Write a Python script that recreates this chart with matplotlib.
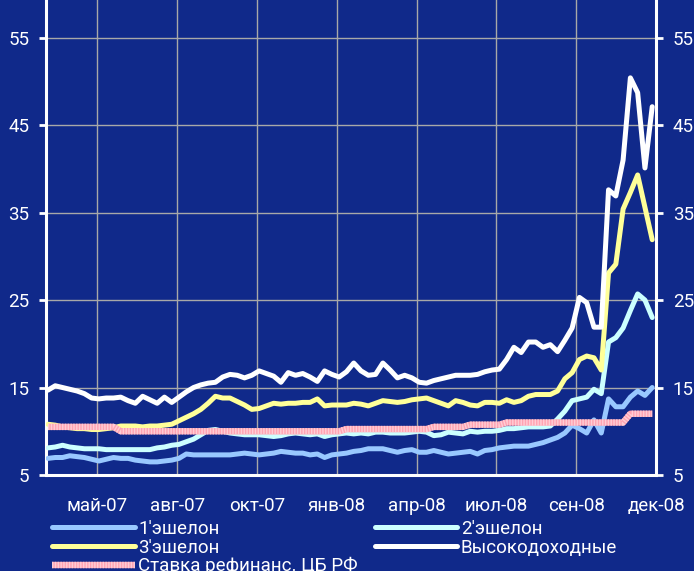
import matplotlib
matplotlib.use("Agg")
import matplotlib.pyplot as plt
from matplotlib.legend_handler import HandlerTuple

plt.rcParams['font.family'] = ['Roboto', 'DejaVu Sans']

# недельные наблюдения, доходность, %
ech1 = [6.9, 7.0, 7.0, 7.2, 7.1, 7.0, 6.8, 6.6, 6.8, 7.0,
        6.9, 6.9, 6.7, 6.6, 6.5, 6.5, 6.6, 6.7, 6.9, 7.4,
        7.3, 7.3, 7.3, 7.3, 7.3, 7.3, 7.4, 7.5, 7.4, 7.3,
        7.4, 7.5, 7.7, 7.6, 7.5, 7.5, 7.3, 7.4, 7.0, 7.3,
        7.4, 7.5, 7.7, 7.8, 8.0, 8.0, 8.0, 7.8, 7.6, 7.8,
        7.9, 7.6, 7.6, 7.8, 7.6, 7.4, 7.5, 7.6, 7.7, 7.4,
        7.8, 7.9, 8.1, 8.2, 8.3, 8.3, 8.3, 8.5, 8.7, 9.0,
        9.3, 9.8, 10.7, 10.3, 9.8, 11.3, 9.8, 13.7, 12.8, 12.8,
        13.9, 14.6, 14.1, 15.0]
ech2 = [8.1, 8.2, 8.4, 8.2, 8.1, 8.0, 8.0, 8.0, 7.9, 7.9,
        7.9, 7.9, 7.9, 7.9, 7.9, 8.1, 8.2, 8.4, 8.5, 8.8,
        9.1, 9.6, 10.1, 10.2, 10.0, 9.8, 9.7, 9.6, 9.6, 9.6,
        9.5, 9.4, 9.5, 9.7, 9.8, 9.7, 9.6, 9.7, 9.4, 9.6,
        9.7, 9.8, 9.7, 9.8, 9.7, 9.9, 9.9, 9.8, 9.8, 9.8,
        9.9, 10.0, 9.9, 9.5, 9.6, 9.9, 9.8, 9.7, 10.0, 9.9,
        10.0, 10.0, 10.1, 10.3, 10.3, 10.4, 10.5, 10.5, 10.5, 10.6,
        11.4, 12.3, 13.5, 13.7, 13.9, 14.8, 14.3, 20.2, 20.7, 21.8,
        23.8, 25.7, 25.0, 23.0]
ech3 = [10.8, 10.7, 10.5, 10.4, 10.3, 10.3, 10.2, 10.2, 10.3, 10.4,
        10.6, 10.6, 10.6, 10.5, 10.6, 10.6, 10.7, 10.8, 11.2, 11.6,
        12.0, 12.5, 13.2, 14.0, 13.8, 13.8, 13.4, 13.0, 12.5, 12.6,
        12.9, 13.2, 13.1, 13.2, 13.2, 13.3, 13.3, 13.7, 12.9, 13.0,
        13.0, 13.0, 13.2, 13.1, 12.9, 13.2, 13.5, 13.4, 13.3, 13.4,
        13.6, 13.7, 13.8, 13.5, 13.2, 12.9, 13.5, 13.3, 13.0, 12.9,
        13.3, 13.3, 13.2, 13.6, 13.3, 13.5, 14.0, 14.2, 14.2, 14.2,
        14.6, 16.0, 16.7, 18.2, 18.6, 18.4, 17.0, 28.1, 29.1, 35.4,
        37.3, 39.3, 35.6, 31.9]
high = [14.7, 15.2, 15.0, 14.8, 14.6, 14.3, 13.8, 13.7, 13.8, 13.8,
        13.9, 13.5, 13.2, 14.0, 13.6, 13.2, 13.9, 13.3, 13.9, 14.5,
        15.0, 15.3, 15.5, 15.6, 16.2, 16.5, 16.4, 16.1, 16.4, 16.9,
        16.6, 16.3, 15.6, 16.7, 16.4, 16.6, 16.2, 15.7, 16.9, 16.5,
        16.2, 16.8, 17.8, 16.9, 16.4, 16.5, 17.8, 17.0, 16.1, 16.4,
        16.1, 15.6, 15.5, 15.8, 16.0, 16.2, 16.4, 16.4, 16.4, 16.5,
        16.8, 17.0, 17.1, 18.2, 19.6, 19.0, 20.2, 20.2, 19.6, 19.9,
        19.1, 20.4, 21.8, 25.3, 24.7, 21.9, 21.9, 37.6, 36.9, 41.0,
        50.4, 48.7, 40.1, 47.1]
refi = [10.5] * 10 + [10.0] * 31 + [10.25] * 12 + [10.5] * 5 + \
       [10.75] * 5 + [11.0] * 17 + [12.0] * 4

month_labels = ['май-07', 'авг-07', 'окт-07', 'янв-08', 'апр-08',
                'июл-08', 'сен-08', 'дек-08']
yticks = [5, 15, 25, 35, 45, 55]

bg = '#10298A'
x = list(range(len(high)))

fig = plt.figure(figsize=(6.94, 5.71), dpi=100, facecolor=bg)
ax = fig.add_axes([46 / 694, 96 / 571, 610 / 694, 475 / 571], facecolor=bg)

l1, = ax.plot(x, ech1, color='#99C8FF', lw=3.6, solid_capstyle='round', zorder=3)
l2, = ax.plot(x, ech2, color='#CCFFFF', lw=3.6, solid_capstyle='round', zorder=3)
l3, = ax.plot(x, ech3, color='#FFFF99', lw=3.6, solid_capstyle='round', zorder=3)
l4, = ax.plot(x, high, color='white', lw=3.6, solid_capstyle='round', zorder=4)
r1, = ax.plot(x, refi, color='#FFA3B2', lw=4.6, solid_capstyle='butt', zorder=5)
r2, = ax.plot(x, refi, color='#FFCDD5', lw=4.6, dashes=(0.22, 0.22),
              dash_capstyle='butt', zorder=6)

ax.set_xlim(-0.27, 83.5)
ax.set_ylim(5, 59.3)
ax.set_xticks([6.8 + 10.96 * k for k in range(len(month_labels))])
ax.set_xticklabels(month_labels)
ax.set_yticks(yticks)
ax.grid(True, color='#A8A8A8', lw=1.0)
ax.set_axisbelow(True)

ax.tick_params(axis='x', length=0, pad=16, colors='white', labelsize=13.5)
ax.tick_params(axis='y', direction='out', length=5, width=2, pad=7,
               colors='white', labelsize=13.5, left=True, right=True,
               labelleft=True, labelright=True)

for s in ['left', 'right', 'bottom']:
    ax.spines[s].set_color('white')
    ax.spines[s].set_linewidth(2.2)
ax.spines['top'].set_visible(False)

handles = [l1, l3, (r1, r2), l2, l4]
names = ["1'эшелон", "3'эшелон", 'Ставка рефинанс. ЦБ РФ', "2'эшелон", 'Высокодоходные']
leg = ax.legend(handles, names, ncol=2, loc='upper left',
                bbox_to_anchor=(52 / 694, 1 - 520 / 571),
                bbox_transform=fig.transFigure, frameon=False,
                fontsize=13.5, handlelength=4.4, handletextpad=0.2,
                columnspacing=0.9, labelspacing=0.03, borderpad=0,
                borderaxespad=0,
                handler_map={tuple: HandlerTuple(ndivide=1)})
for t in leg.get_texts():
    t.set_color('white')

fig.savefig('out.png', dpi=100, facecolor=bg)
